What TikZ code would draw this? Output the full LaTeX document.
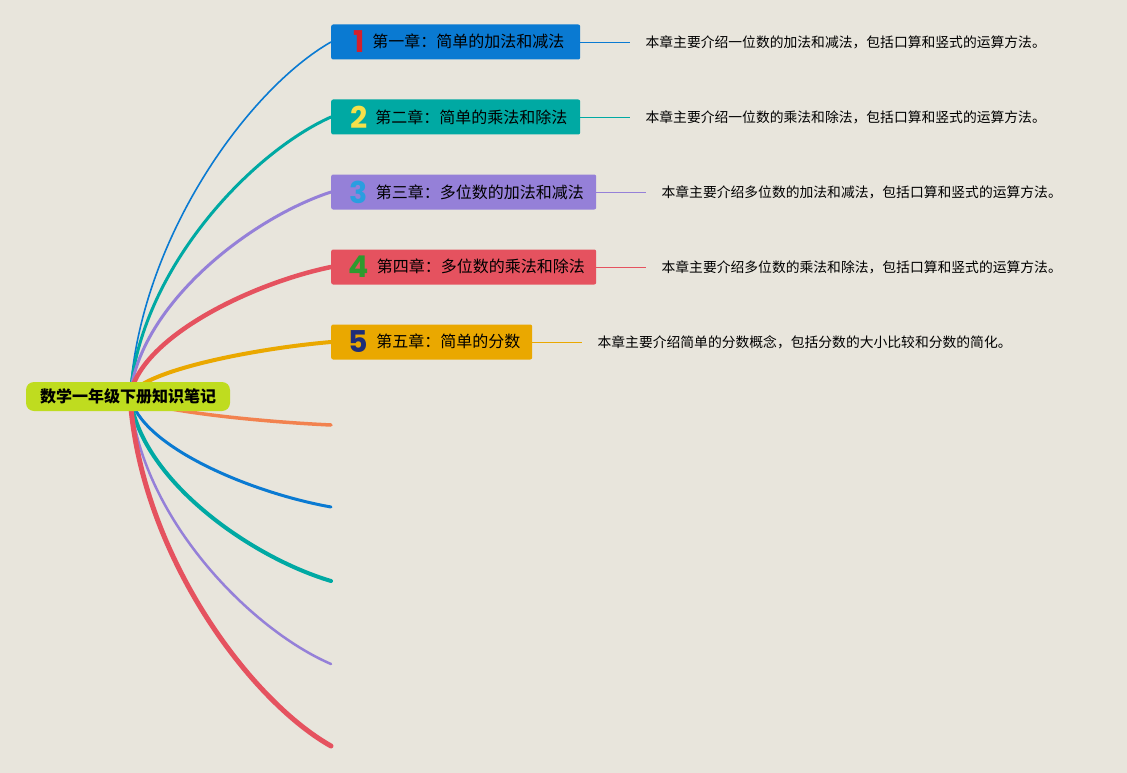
\documentclass[tikz,border=0pt]{standalone}
\usepackage{fontspec}
\usepackage{xcolor}
\usepackage{tikz}
\setmainfont{Noto Sans CJK SC}
\newfontfamily\numfont{Poppins}
\definecolor{bgcol}{HTML}{E8E5DC}
\definecolor{rootcol}{HTML}{BFDC1F}
\definecolor{cblue}{HTML}{0A7AD2}
\definecolor{cteal}{HTML}{00A9A3}
\definecolor{cpurple}{HTML}{9580D8}
\definecolor{cred}{HTML}{E5525F}
\definecolor{cyellow}{HTML}{EAA800}
\definecolor{corange}{HTML}{F2824F}
\definecolor{nred}{HTML}{D4202C}
\definecolor{nyellow}{HTML}{F5E04A}
\definecolor{nblue}{HTML}{2A9EE0}
\definecolor{ngreen}{HTML}{2E9A2E}
\definecolor{nnavy}{HTML}{1E2D78}

\begin{document}
\begin{tikzpicture}[x=1pt,y=-1pt,
    chap/.style={rounded corners=2pt,minimum height=35pt,inner xsep=0pt,anchor=west,font=\fontsize{16}{18}\selectfont},
    desc/.style={anchor=west,inner xsep=15pt,inner ysep=0pt,font=\fontsize{13.8}{16}\selectfont},
    branch/.style={line cap=round}]
    \fill[bgcol] (0,0) rectangle (1127,773);
    \coordinate (hub) at (130,396);
    % chapters
    \foreach \i/\y/\w/\col/\ncol/\txt/\dtxt/\lw in {
      1/42/249/cblue/nred/{第一章：简单的加法和减法}/{本章主要介绍一位数的加法和减法，包括口算和竖式的运算方法。}/1.6,
      2/117/249/cteal/nyellow/{第二章：简单的乘法和除法}/{本章主要介绍一位数的乘法和除法，包括口算和竖式的运算方法。}/3,
      3/192/265/cpurple/nblue/{第三章：多位数的加法和减法}/{本章主要介绍多位数的加法和减法，包括口算和竖式的运算方法。}/3,
      4/267/265/cred/ngreen/{第四章：多位数的乘法和除法}/{本章主要介绍多位数的乘法和除法，包括口算和竖式的运算方法。}/4.5,
      5/342/201/cyellow/nnavy/{第五章：简单的分数}/{本章主要介绍简单的分数概念，包括分数的大小比较和分数的简化。}/4}{
      \node[chap,fill=\col,minimum width=\w] (c\i) at (331,\y)
        {\hspace{6pt}\raisebox{-5pt}{\numfont\bfseries\fontsize{30}{30}\selectfont\color{\ncol}\i}\hspace{8pt}\txt};
      \node[desc] (d\i) at ([xshift=50]c\i.east) {\dtxt};
      \draw[\col,line width=.7] (c\i.east) -- (d\i.west);
      \draw[branch,\col,line width=\lw] (hub) .. controls (140,{396+0.45*(\y-396)}) and (250,{\y-0.13*(\y-396)}) .. (c\i.west);
    }
    % empty branches
    \foreach \i/\y/\col/\lw in {1/425/corange/3.5,2/507/cblue/3,3/581/cteal/4,4/664/cpurple/2.5,5/746/cred/5}{
      \coordinate (e\i) at (331,\y);
      \draw[branch,\col,line width=\lw] (hub) .. controls (140,{396+0.45*(\y-396)}) and (250,{\y-0.13*(\y-396)}) .. (e\i);
    }
    \node[fill=rootcol,rounded corners=8pt,minimum width=204pt,minimum height=29pt,font=\bfseries\fontsize{16}{20}\selectfont] (root) at (128,396.5) {数学一年级下册知识笔记};
  \end{tikzpicture}
\end{document}
